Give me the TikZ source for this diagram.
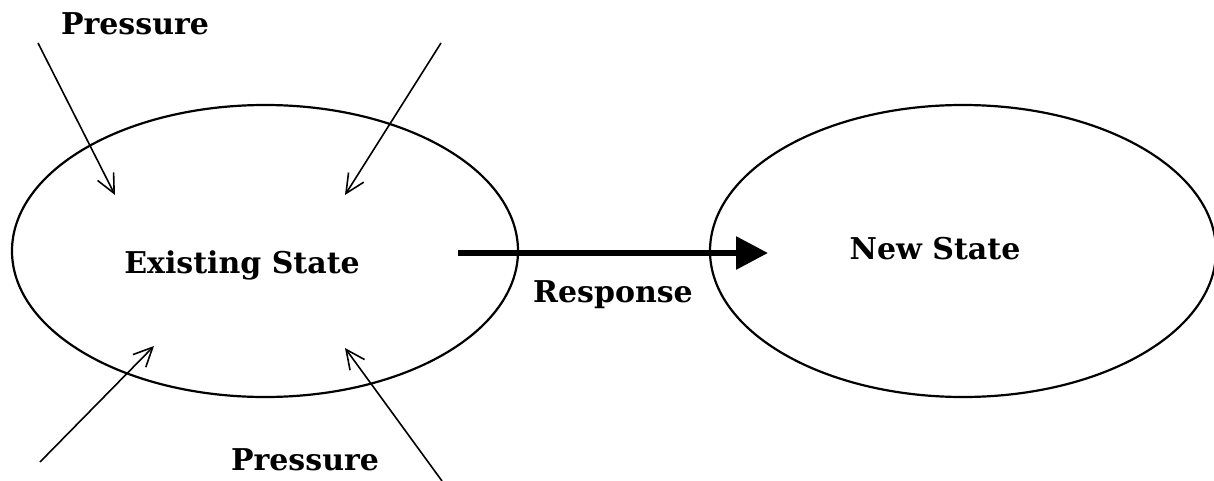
\documentclass[tikz,border=0pt]{standalone}
\usepackage{fontspec}
\setmainfont{DejaVu Serif}
\usetikzlibrary{shapes.geometric,arrows.meta}
\begin{document}
\begin{tikzpicture}[x=1pt,y=-1pt,
  statebox/.style={draw,ellipse,line width=2.2pt,inner sep=0pt,minimum width=506pt,minimum height=292pt},
  lbl/.style={font=\fontsize{30}{34}\selectfont\bfseries,inner sep=0pt},
  press/.style={line width=1.6pt,-{Straight Barb[length=19pt,width=18pt,line width=1.6pt]}},
  resp/.style={line width=6pt,-{Triangle[length=32pt,width=32pt]}}]
\useasboundingbox (0,0) rectangle (1214,481);
\node[statebox] (old) at (265,251) {};
\node[statebox] (new) at (963,251) {};
\node[lbl] (tOld) at (242,265) {Existing State};
\node[lbl] (tNew) at (935,249) {New State};
\node[lbl] (tResp) at (613,295) {Response};
\node[lbl] (tP1) at (135,24) {Pressure};
\node[lbl] (tP2) at (305,460) {Pressure};
\coordinate (a1s) at (38,43);  \coordinate (a1e) at (115,195);
\coordinate (a2s) at (441,43); \coordinate (a2e) at (345,195);
\coordinate (a3s) at (40,462); \coordinate (a3e) at (154,346);
\coordinate (a4s) at (442,481); \coordinate (a4e) at (345,348);
\coordinate (rs) at (458,253); \coordinate (re) at (768,253);
\draw[press] (a1s) -- (a1e);
\draw[press] (a2s) -- (a2e);
\draw[press] (a3s) -- (a3e);
\draw[press] (a4s) -- (a4e);
\draw[resp] (rs) -- (re);
\end{tikzpicture}
\end{document}
